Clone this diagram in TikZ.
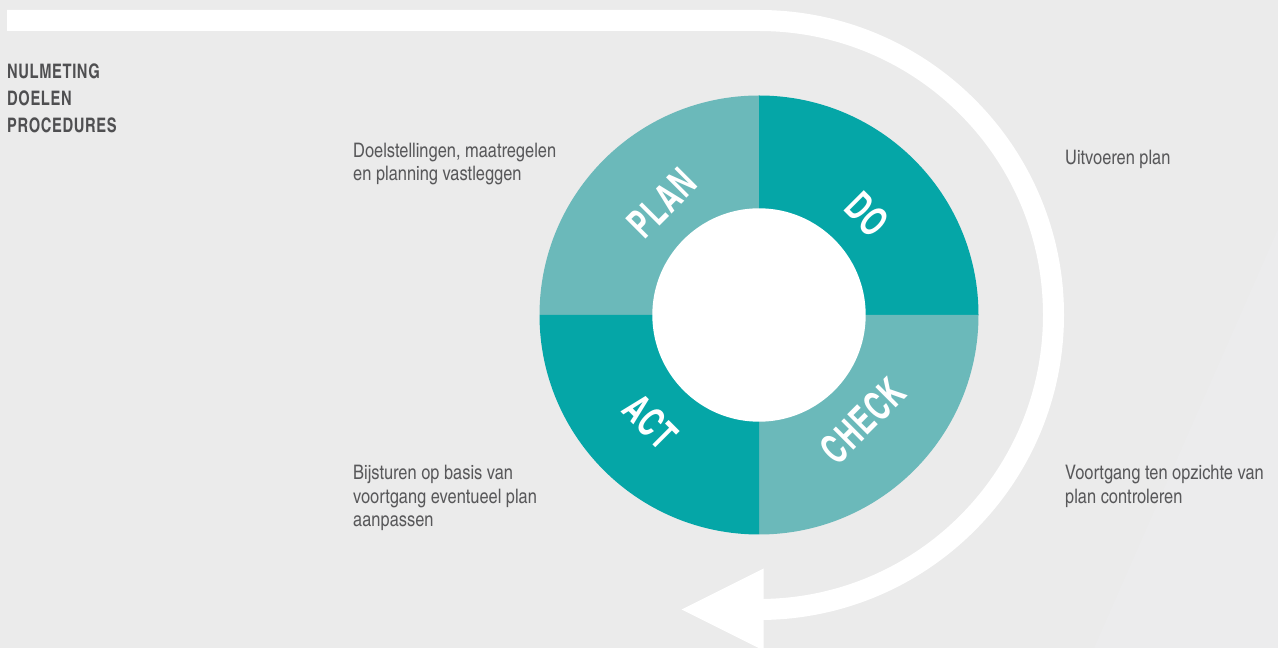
\documentclass[tikz,border=0pt]{standalone}
\usepackage{fontspec}
\setmainfont{texgyreheroscn}[Extension=.otf, UprightFont=*-regular, BoldFont=*-bold]
\usepackage{xcolor}
\usetikzlibrary{arrows.meta,positioning}
\definecolor{bggrey}{HTML}{EBEBEB}
\definecolor{bglight}{HTML}{ECECED}
\definecolor{tealdark}{HTML}{05A6A7}
\definecolor{teallight}{HTML}{6BB9BA}
\definecolor{txtgrey}{HTML}{58585A}
\begin{document}
\begin{tikzpicture}[x=1pt,y=1pt,
  note/.style={anchor=north west, inner sep=0pt, align=left, text=txtgrey,
    font=\fontsize{20}{23.5}\selectfont},
  phase/.style={inner sep=0pt, text=white,
    font=\bfseries\addfontfeatures{FakeStretch=0.82,LetterSpace=3}\fontsize{40}{40}\selectfont},
  flow/.style={white, line width=21pt,
    -{Triangle[length=82pt,width=82pt,line width=0pt]}}]
\useasboundingbox (0,0) rectangle (1278,648);
\fill[bggrey] (0,0) rectangle (1278,648);
\fill[bglight] (1278,419) -- (1094,0) -- (1278,0) -- cycle;
\coordinate (ctr) at (759,333);
\coordinate (start) at (7,627.5);
\coordinate (tip) at (681.7,38.5);
\draw[flow] (start) -- (759,627.5) arc[start angle=90,end angle=-90,radius=294.5pt] -- (tip);
\fill[teallight] (ctr) -- ++(90:219.5pt) arc[start angle=90,end angle=180,radius=219.5pt] -- cycle;
\fill[tealdark] (ctr) -- ++(0:219.5pt) arc[start angle=0,end angle=90,radius=219.5pt] -- cycle;
\fill[teallight] (ctr) -- ++(-90:219.5pt) arc[start angle=-90,end angle=0,radius=219.5pt] -- cycle;
\fill[tealdark] (ctr) -- ++(180:219.5pt) arc[start angle=180,end angle=270,radius=219.5pt] -- cycle;
\fill[white] (ctr) circle[radius=106.7pt];
\node[phase, rotate=45] (plan) at ([shift={(131:148pt)}]ctr) {PLAN};
\node[phase, rotate=-45] (do) at ([shift={(43:148pt)}]ctr) {DO};
\node[phase, rotate=45] (check) at ([shift={(-45.5:148pt)}]ctr) {CHECK};
\node[phase, rotate=-45] (act) at ([shift={(-135.5:152pt)}]ctr) {ACT};
\node[note, font=\bfseries\addfontfeatures{FakeStretch=0.9,LetterSpace=3}\fontsize{20}{27}\selectfont, text=txtgrey!90!black] (intro) at (7,584) {NULMETING\\DOELEN\\PROCEDURES};
\node[note] (plantxt) at (353,505.3) {Doelstellingen, maatregelen\\en planning vastleggen};
\node[note] (dotxt) at (1065,498) {Uitvoeren plan};
\node[note] (checktxt) at (1065,183) {Voortgang ten opzichte van\\plan controleren};
\node[note] (acttxt) at (353,183) {Bijsturen op basis van\\voortgang eventueel plan\\aanpassen};
\end{tikzpicture}
\end{document}
